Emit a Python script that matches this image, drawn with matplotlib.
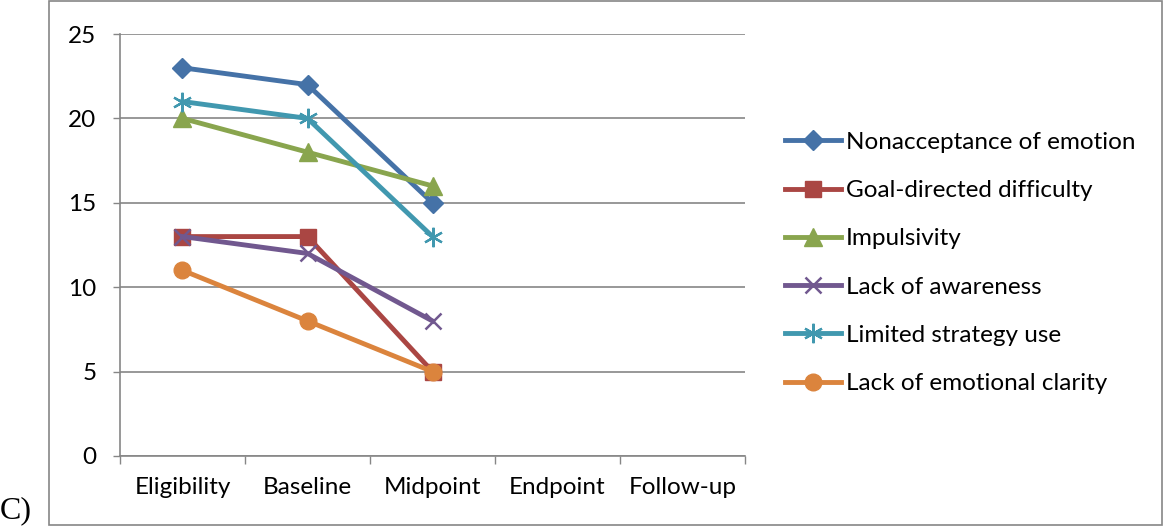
import numpy as np
import matplotlib.pyplot as plt
from matplotlib.patches import Rectangle

# data
timepoints = ['Eligibility', 'Baseline', 'Midpoint', 'Endpoint', 'Follow-up']
nonacceptance = [23, 22, 15, np.nan, np.nan]
goal_directed = [13, 13, 5, np.nan, np.nan]
impulsivity = [20, 18, 16, np.nan, np.nan]
awareness = [13, 12, 8, np.nan, np.nan]
strategy = [21, 20, 13, np.nan, np.nan]
clarity = [11, 8, 5, np.nan, np.nan]

series = [
	('Nonacceptance of emotion', nonacceptance, '#4572A7', 'D'),
	('Goal-directed difficulty', goal_directed, '#AA4643', 's'),
	('Impulsivity', impulsivity, '#89A54E', '^'),
	('Lack of awareness', awareness, '#71588F', 'x'),
	('Limited strategy use', strategy, '#4198AF', '*'),
	('Lack of emotional clarity', clarity, '#DB843D', 'o'),
]

plt.rcParams['font.family'] = ['Lato', 'DejaVu Sans']
FS = 17.5

fig = plt.figure(figsize=(11.65, 5.29), dpi=100)
ax = fig.add_axes([0.103, 0.138, 0.5365, 0.7977])

x = np.arange(len(timepoints))
handles = []
for name, vals, col, mk in series:
	if mk == 'x':
		h, = ax.plot(x, vals, color=col, lw=3.5, marker='x', ms=12, mew=1.8, label=name)
	elif mk == '*':
		h, = ax.plot(x, vals, color=col, lw=3.5, marker=(6, 2, 0), ms=14, mew=1.6, label=name)
	elif mk == 'D':
		h, = ax.plot(x, vals, color=col, lw=3.5, marker='D', ms=10.5, label=name)
	elif mk == '^':
		h, = ax.plot(x, vals, color=col, lw=3.5, marker='^', ms=13, label=name)
	else:
		h, = ax.plot(x, vals, color=col, lw=3.5, marker=mk, ms=12, label=name)
	handles.append(h)

ax.set_xlim(-0.5, len(timepoints) - 0.5)
ax.set_ylim(0, 25)
ax.set_yticks(range(0, 26, 5))
ax.set_xticks(x)
ax.set_xticklabels(timepoints, fontsize=FS)
ax.set_xticks(np.arange(-0.5, len(timepoints)), minor=True)
ax.tick_params(axis='x', which='major', length=0, pad=15)
ax.tick_params(axis='x', which='minor', length=6, color='#868686', width=1)
ax.tick_params(axis='y', length=5, color='#868686', width=1, labelsize=FS, pad=12)

ax.yaxis.grid(True, color='#868686', lw=1.2)
ax.set_axisbelow(True)
for s in ['top', 'right']:
	ax.spines[s].set_visible(False)
for s in ['left', 'bottom']:
	ax.spines[s].set_color('#868686')
	ax.spines[s].set_linewidth(1.2)

fig.legend(handles=handles, loc='center left', bbox_to_anchor=(0.674, 0.503),
	frameon=False, fontsize=FS, handlelength=2.3, handletextpad=0.2,
	labelspacing=1.12, borderaxespad=0, borderpad=0)

# outer frame and panel label
fig.patches.append(Rectangle((0.042, 0.008), 0.955, 0.99, transform=fig.transFigure,
	fill=False, edgecolor='#868686', lw=1.2))
fig.text(0.0, 0.008, 'C)', fontsize=23, family='Liberation Serif', ha='left', va='bottom')

fig.savefig('out.png', dpi=100)
